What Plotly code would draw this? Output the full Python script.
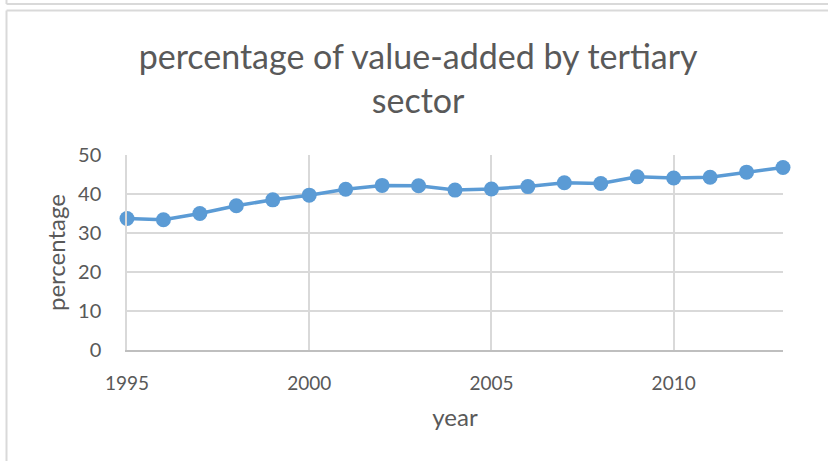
import plotly.graph_objects as go

years = list(range(1995, 2014))
percentage = [33.7, 33.4, 35.0, 37.0, 38.5, 39.7, 41.2, 42.2, 42.1, 41.0,
              41.3, 41.9, 42.9, 42.7, 44.4, 44.1, 44.3, 45.6, 46.8]
y_ticks = [0, 10, 20, 30, 40, 50]
x_ticks = [1995, 2000, 2005, 2010]

W, H = 828, 461
L, R, T, B = 127, 45, 155, 111
pw, ph = W - L - R, H - T - B


def px(x):
    return (x - L) / pw


def py(y):
    return (H - B - y) / ph


FONT = "Lato"
TXT = "#595959"
GRID = "#d9d9d9"

fig = go.Figure()
fig.add_trace(go.Scatter(
    x=years, y=percentage, mode="lines+markers",
    line=dict(color="#5b9bd5", width=3.5),
    marker=dict(color="#5b9bd5", size=15),
    showlegend=False, cliponaxis=False,
))

border = dict(color=GRID, width=2)
shapes = [
    dict(type="line", xref="paper", yref="paper", x0=px(6.5), x1=px(900), y0=py(4), y1=py(4), line=border),
    dict(type="line", xref="paper", yref="paper", x0=px(6.5), x1=px(6.5), y0=py(-5), y1=py(4), line=border),
    dict(type="line", xref="paper", yref="paper", x0=px(6.5), x1=px(900), y0=py(10.5), y1=py(10.5), line=border),
    dict(type="line", xref="paper", yref="paper", x0=px(6.5), x1=px(6.5), y0=py(10.5), y1=py(500), line=border),
]

fig.update_layout(
    width=W, height=H,
    margin=dict(l=L, r=R, t=T, b=B),
    paper_bgcolor="white", plot_bgcolor="white",
    font=dict(family=FONT, color=TXT),
    title=dict(text="percentage of value-added by tertiary<br>sector",
               x=0.505, xref="container", xanchor="center",
               y=1 - 69 / H, yanchor="middle",
               font=dict(size=34, family=FONT, color=TXT)),
    shapes=shapes,
    xaxis=dict(range=[1995, 2013], tickvals=x_ticks, ticktext=[str(v) for v in x_ticks],
               showgrid=True, gridcolor=GRID, gridwidth=1.5,
               showline=True, linecolor="#bfbfbf", linewidth=1.5,
               zeroline=False, tickfont=dict(size=19, color=TXT),
               ticklabelstandoff=15,
               title=dict(text="year", font=dict(size=24, color=TXT), standoff=17)),
    yaxis=dict(range=[0, 50], tickvals=y_ticks,
               showgrid=True, gridcolor=GRID, gridwidth=1.5,
               showline=True, linecolor=GRID, linewidth=1.5,
               zeroline=False, tickfont=dict(size=20, color=TXT),
               ticklabelstandoff=20,
               title=dict(text="percentage", font=dict(size=24, color=TXT), standoff=6)),
)

fig.write_html("out.html", config={"displayModeBar": False},
               post_script="document.body.style.margin='0';document.body.style.overflow='hidden';")
